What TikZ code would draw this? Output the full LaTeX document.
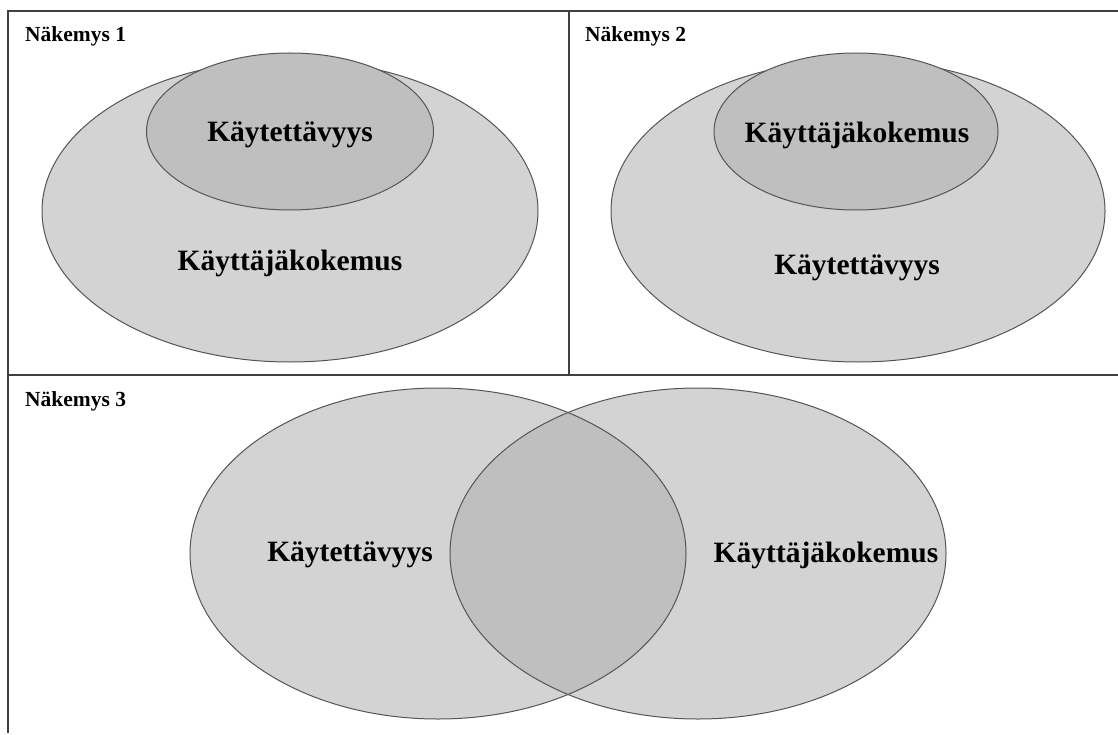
\documentclass[tikz,border=0pt]{standalone}
\usepackage{fontspec}
\setmainfont{Liberation Serif}
\definecolor{outerfill}{HTML}{D3D3D3}
\definecolor{innerfill}{HTML}{BFBFBF}
\definecolor{edge}{HTML}{555555}
\definecolor{frame}{HTML}{404040}
\tikzset{
  panelline/.style={draw=frame, line width=1.6pt},
  outerell/.style={fill=outerfill, draw=edge, line width=1pt},
  innerell/.style={fill=innerfill, draw=edge, line width=1pt},
  title/.style={font=\fontsize{21.5}{24}\selectfont\bfseries, anchor=base west, inner sep=0pt},
  label/.style={font=\fontsize{29.5}{32}\selectfont\bfseries, inner sep=0pt}
}
\begin{document}
\begin{tikzpicture}[x=1pt,y=-1pt]
\useasboundingbox (0,0) rectangle (1118,735);
% frames
\coordinate (tl) at (8,11);
\coordinate (tr) at (1118,11);
\coordinate (ml) at (8,375);
\coordinate (mr) at (1118,375);
\coordinate (bl) at (8,733);
\coordinate (dt) at (569,11);
\coordinate (db) at (569,375);
\draw[panelline] (tr) -- (tl) -- (bl);
\draw[panelline] (ml) -- (mr);
\draw[panelline] (dt) -- (db);
% panel 1
\draw[outerell] (290,211) ellipse [x radius=248, y radius=151];
\draw[innerell] (290,131.5) ellipse [x radius=143.5, y radius=78.5];
\node[title] (t1) at (25,42) {Näkemys 1};
\node[label] (a1) at (290,135) {Käytettävyys};
\node[label] (b1) at (290,263) {Käyttäjäkokemus};
% panel 2
\draw[outerell] (858,211) ellipse [x radius=247, y radius=151];
\draw[innerell] (856,131.5) ellipse [x radius=142, y radius=78.5];
\node[title] (t2) at (585,42) {Näkemys 2};
\node[label] (a2) at (857,135) {Käyttäjäkokemus};
\node[label] (b2) at (857,268) {Käytettävyys};
% panel 3
\fill[outerfill] (438,553.5) ellipse [x radius=248, y radius=165.5];
\fill[outerfill] (698,553.5) ellipse [x radius=248, y radius=165.5];
\begin{scope}
\clip (438,553.5) ellipse [x radius=248, y radius=165.5];
\fill[innerfill] (698,553.5) ellipse [x radius=248, y radius=165.5];
\end{scope}
\draw[edge, line width=1pt] (438,553.5) ellipse [x radius=248, y radius=165.5];
\draw[edge, line width=1pt] (698,553.5) ellipse [x radius=248, y radius=165.5];
\node[title] (t3) at (25,406) {Näkemys 3};
\node[label] (a3) at (350,555) {Käytettävyys};
\node[label] (b3) at (826,555) {Käyttäjäkokemus};
\end{tikzpicture}
\end{document}
